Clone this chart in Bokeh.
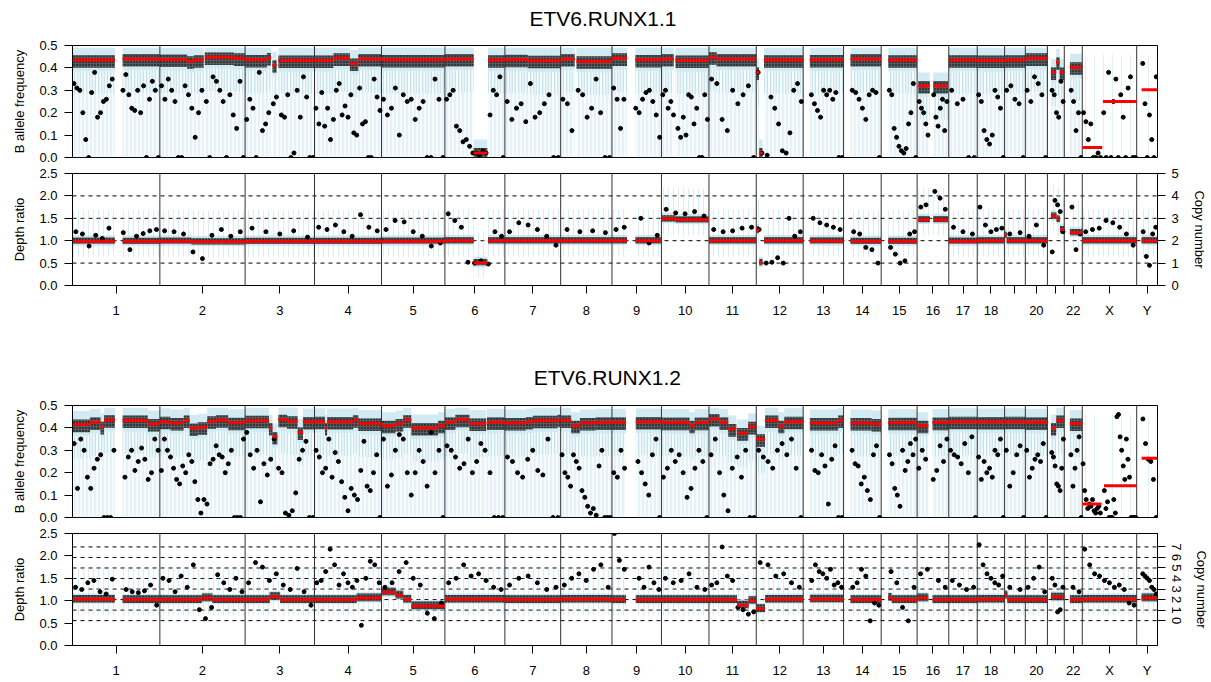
import numpy as np
from bokeh.plotting import figure
from bokeh.layouts import column
from bokeh.models import Range1d, LinearAxis, FixedTicker, PrintfTickFormatter
from bokeh.core.properties import value
from bokeh.embed import file_html
from bokeh.resources import INLINE

# ---------------- data ----------------
chroms = ["1", "2", "3", "4", "5", "6", "7", "8", "9", "10", "11", "12", "13", "14",
          "15", "16", "17", "18", "19", "20", "21", "22", "X", "Y"]
chrom_len = [249.25, 243.20, 198.02, 191.15, 180.92, 171.12, 159.14, 146.36, 141.21,
             135.53, 135.01, 133.85, 115.17, 107.35, 102.53, 90.35, 81.20, 78.08, 59.13,
             63.03, 48.13, 51.30, 155.27, 59.37]
hidden_labels = ["19", "21"]
sparse_baf = ["X", "Y"]

titles = ["ETV6.RUNX1.1", "ETV6.RUNX1.2"]
baf_ticks = [0.0, 0.1, 0.2, 0.3, 0.4, 0.5]
depth_ticks = [0.0, 0.5, 1.0, 1.5, 2.0, 2.5]
cn_labels1 = [0, 1, 2, 3, 4, 5]
cn_depth1 = [0.0, 0.5, 1.0, 1.5, 2.0, 2.5]
cn_labels2 = [0, 1, 2, 3, 4, 5, 6, 7]
cn_depth2 = [0.555, 0.79, 1.025, 1.26, 1.495, 1.73, 1.965, 2.2]

# segments: (chromosome, start Mb, end Mb, value)
baf1_segments = [
    ("1", 0, 121, 0.435), ("1", 143, 249, 0.44),
    ("2", 0, 78, 0.438), ("2", 78, 97, 0.43), ("2", 97, 125, 0.435), ("2", 128, 211, 0.447), ("2", 211, 243, 0.443),
    ("3", 0, 62, 0.436), ("3", 62, 74, 0.445), ("3", 78, 90, 0.412), ("3", 95, 198, 0.433),
    ("4", 0, 54, 0.433), ("4", 54, 101, 0.443), ("4", 101, 125, 0.42), ("4", 125, 191, 0.44),
    ("5", 0, 181, 0.436),
    ("6", 0, 82, 0.44), ("6", 82, 121, 0.02), ("6", 123, 171, 0.435),
    ("7", 0, 65, 0.437), ("7", 65, 159, 0.432),
    ("8", 0, 40, 0.44), ("8", 45, 146, 0.43),
    ("9", 0, 43, 0.443), ("9", 67, 141, 0.436),
    ("10", 0, 35, 0.44), ("10", 40, 135, 0.433),
    ("11", 0, 22, 0.448), ("11", 22, 135, 0.44),
    ("12", 0, 8, 0.38), ("12", 8, 18, 0.02), ("12", 22, 134, 0.435),
    ("13", 19, 115, 0.436),
    ("14", 20, 107, 0.44),
    ("15", 20, 102, 0.435),
    ("16", 3, 36, 0.32), ("16", 46, 88, 0.32),
    ("17", 0, 81, 0.435),
    ("18", 0, 78, 0.433),
    ("19", 0, 59, 0.435),
    ("20", 0, 63, 0.443),
    ("21", 10, 25, 0.38), ("21", 25, 35, 0.425), ("21", 35, 48, 0.38),
    ("22", 16, 51, 0.403),
    ("X", 0, 57, 0.045), ("X", 59, 155, 0.25),
    ("Y", 14, 59, 0.303),
]
depth1_segments = [
    ("1", 0, 121, 0.99), ("1", 143, 249, 0.985),
    ("2", 0, 90, 0.99), ("2", 90, 243, 0.975),
    ("3", 0, 198, 0.985),
    ("4", 0, 191, 0.985),
    ("5", 0, 181, 0.99),
    ("6", 0, 82, 1.0), ("6", 82, 121, 0.51), ("6", 123, 171, 1.0),
    ("7", 0, 159, 1.0),
    ("8", 0, 146, 1.0),
    ("9", 0, 43, 1.0), ("9", 67, 141, 1.0),
    ("10", 0, 40, 1.49), ("10", 40, 135, 1.465),
    ("11", 0, 135, 1.0),
    ("12", 0, 8, 1.24), ("12", 8, 18, 0.51), ("12", 22, 134, 1.0),
    ("13", 19, 115, 0.995),
    ("14", 20, 107, 0.985),
    ("15", 20, 102, 0.985),
    ("16", 3, 36, 1.47), ("16", 46, 88, 1.47),
    ("17", 0, 81, 0.99),
    ("18", 0, 78, 1.0),
    ("19", 0, 6, 1.12), ("19", 6, 59, 1.0),
    ("20", 0, 63, 1.0),
    ("21", 10, 26, 1.55), ("21", 26, 36, 1.48), ("21", 36, 48, 1.25),
    ("22", 16, 51, 1.18),
    ("X", 0, 155, 1.0),
    ("Y", 14, 59, 1.0),
]
baf2_segments = [
    ("1", 0, 50, 0.415), ("1", 50, 80, 0.425), ("1", 80, 90, 0.405), ("1", 90, 121, 0.435),
    ("1", 143, 215, 0.433), ("1", 215, 249, 0.418),
    ("2", 0, 30, 0.428), ("2", 30, 68, 0.422), ("2", 68, 85, 0.433), ("2", 85, 108, 0.398),
    ("2", 108, 135, 0.403), ("2", 135, 160, 0.43), ("2", 160, 195, 0.435), ("2", 195, 243, 0.423),
    ("3", 0, 68, 0.432), ("3", 68, 78, 0.40), ("3", 78, 92, 0.36), ("3", 95, 120, 0.437),
    ("3", 120, 150, 0.43), ("3", 150, 165, 0.38), ("3", 165, 198, 0.427),
    ("4", 0, 30, 0.428), ("4", 30, 36, 0.40), ("4", 36, 110, 0.427), ("4", 110, 125, 0.435), ("4", 125, 191, 0.42),
    ("5", 0, 40, 0.41), ("5", 40, 62, 0.418), ("5", 62, 85, 0.435), ("5", 85, 161, 0.40), ("5", 161, 181, 0.41),
    ("6", 0, 30, 0.425), ("6", 30, 70, 0.437), ("6", 70, 118, 0.42), ("6", 120, 171, 0.425),
    ("7", 0, 60, 0.422), ("7", 60, 80, 0.427), ("7", 80, 150, 0.432), ("7", 150, 159, 0.437),
    ("8", 0, 30, 0.433), ("8", 30, 55, 0.41), ("8", 55, 100, 0.422), ("8", 100, 146, 0.425),
    ("9", 0, 40, 0.425), ("9", 68, 141, 0.427),
    ("10", 0, 80, 0.424), ("10", 80, 95, 0.41), ("10", 95, 135, 0.424),
    ("11", 0, 30, 0.44), ("11", 30, 55, 0.425), ("11", 55, 78, 0.395), ("11", 80, 112, 0.377), ("11", 112, 135, 0.405),
    ("12", 0, 25, 0.35), ("12", 25, 63, 0.433), ("12", 63, 80, 0.41), ("12", 80, 134, 0.428),
    ("13", 19, 100, 0.422), ("13", 100, 115, 0.433),
    ("14", 20, 80, 0.422), ("14", 80, 107, 0.418),
    ("15", 20, 102, 0.423),
    ("16", 0, 32, 0.41), ("16", 44, 90, 0.424),
    ("17", 0, 81, 0.428),
    ("18", 0, 78, 0.427),
    ("19", 0, 59, 0.428),
    ("20", 0, 63, 0.425),
    ("21", 10, 25, 0.40), ("21", 25, 48, 0.433),
    ("22", 16, 51, 0.42),
    ("X", 0, 55, 0.06), ("X", 62, 155, 0.142),
    ("Y", 14, 59, 0.265),
]
depth2_segments = [
    ("1", 0, 121, 1.03), ("1", 143, 249, 1.02),
    ("2", 0, 120, 1.02), ("2", 120, 150, 1.06), ("2", 150, 243, 1.02),
    ("3", 0, 70, 1.02), ("3", 70, 100, 1.09), ("3", 100, 198, 1.02),
    ("4", 0, 120, 1.02), ("4", 120, 191, 1.06),
    ("5", 0, 40, 1.19), ("5", 40, 62, 1.12), ("5", 62, 85, 1.03), ("5", 85, 181, 0.88),
    ("6", 0, 171, 1.03),
    ("7", 0, 159, 1.02),
    ("8", 0, 146, 1.03),
    ("9", 0, 40, 1.02), ("9", 68, 141, 1.02),
    ("10", 0, 135, 1.02),
    ("11", 0, 80, 1.02), ("11", 80, 113, 0.9), ("11", 113, 135, 1.0),
    ("12", 0, 25, 0.82), ("12", 25, 134, 1.03),
    ("13", 19, 115, 1.035),
    ("14", 20, 107, 1.02),
    ("15", 20, 30, 1.07), ("15", 30, 102, 1.02),
    ("16", 0, 32, 1.06), ("16", 44, 90, 1.02),
    ("17", 0, 81, 1.02),
    ("18", 0, 78, 1.03),
    ("19", 0, 8, 1.12), ("19", 8, 59, 1.02),
    ("20", 0, 63, 1.02),
    ("21", 10, 48, 1.08),
    ("22", 16, 51, 1.02),
    ("X", 0, 155, 1.03),
    ("Y", 14, 59, 1.06),
]

# scattered points (values, in genomic order within each chromosome)
baf1_points = [
    "0.33 0.31 0.30 0.20 0.08 0 0.29 0.38 0.18 0.20 0.25 0.26 0.32 0.35 0.30 0.37 0.28 0.22 0.21 0.30 0.20 0.32 0 0.26 0.34 0.30 0",
    "0.32 0.26 0.35 0.30 0.25 0 0 0.32 0.28 0.22 0.09 0.20 0.30 0.25 0 0.36 0.34 0.30 0.25 0 0.28 0.19 0.13 0.34 0",
    "0.17 0.26 0.22 0 0.38 0.12 0.15 0.20 0.24 0.27 0.19 0.18 0.28 0 0.02 0.30 0.18 0.36 0.27 0 0",
    "0.22 0.15 0.29 0.14 0.22 0.08 0.17 0.30 0.33 0.19 0.23 0.18 0.28 0.11 0.10 0.31 0.15 0.16 0 0 0.35 0.27 0.21",
    "0.26 0.19 0.22 0.31 0.10 0.28 0.25 0.26 0.17 0.22 0.25 0 0 0.35 0.26 0",
    "0.26 0.28 0.30 0.14 0.12 0.07 0.08 0.05 0.02 0.02 0.01 0.03 0.02 0.19 0.30 0.28 0.36 0",
    "0.25 0.17 0.22 0.24 0.16 0.33 0.18 0.20 0.24 0.28 0 0",
    "0.26 0.24 0.12 0.30 0.28 0.18 0.22 0.35 0.20 0 0",
    "0.31 0.26 0.13 0.26 0.22 0.20 0.26 0.29 0.30 0.25 0.19 0.09",
    "0.28 0.30 0.22 0.25 0.19 0.13 0.09 0.18 0.10 0.28 0.27 0.15 0.22 0 0 0.28 0.17",
    "0.35 0.33 0.17 0.12 0.30 0.24 0.28 0.32 0",
    "0.38 0.02 0.01 0.27 0.22 0.15 0.03 0.02 0.11 0.30 0.33 0.25",
    "0.28 0.24 0.21 0.18 0.30 0.28 0.30 0.26 0.29 0 0",
    "0.30 0.29 0.26 0.22 0.17 0.28 0.30 0.29 0",
    "0.30 0.28 0.13 0.09 0.05 0.03 0.02 0.04 0.15 0.20 0.33 0",
    "0.25 0.22 0.20 0.15 0.10 0.28 0.18 0.14 0.22 0.26 0.12 0.25",
    "0.30 0.24 0.26 0 0",
    "0.28 0.25 0.12 0.08 0.06 0.10 0.30 0.27 0.22 0",
    "0.30 0.32 0.26 0.24 0",
    "0.30 0.25 0.36 0.33 0.28 0",
    "0.30 0.28 0.20 0.18 0.34 0.25",
    "0.30 0.25 0.12 0.20 0",
    "0.20 0.16 0.08 0.15 0 0 0.02 0 0.20 0 0.38 0 0.25 0.35 0 0.28 0.18 0 0.31 0.36 0 0",
    "0.42 0.24 0 0.19 0.08 0 0.36",
]
depth1_points = [
    "1.20 1.15 0.88 1.12 1.05 1.28 1.18 0.80 1.10 1.16 1.22 1.25",
    "1.22 1.20 1.15 0.75 0.60 1.12 1.25 1.10 1.20",
    "1.28 1.20 1.15 1.22 1.08",
    "1.30 1.25 1.35 1.20 1.10 1.58 1.30 1.22",
    "1.25 1.45 1.42 1.20 1.10 0.88 0.95",
    "1.60 1.45 1.30 0.52 0.50 0.55 0.48 1.20 1.10",
    "1.20 1.40 1.35 1.25 1.10 0.90",
    "1.25 1.20 1.22 1.18",
    "1.25 1.30 1.50 0.95 1.12",
    "1.70 1.62 1.60 1.65 1.55",
    "1.25 1.20 1.22 1.28 1.30",
    "1.25 0.50 0.52 0.62 0.50 1.50 1.10 1.20",
    "1.50 1.40 1.35 1.30 1.25",
    "1.20 1.15 0.85 0.80 0.50",
    "0.85 0.70 0.50 0.55 1.15 1.20",
    "1.75 1.80 2.10 1.95 1.70",
    "1.30 1.20 1.15",
    "1.75 1.35 1.20 1.25 1.28",
    "1.15 1.18",
    "1.10 1.35 0.90",
    "0.75 1.90 1.80 1.65 1.20",
    "1.75 0.80 1.15",
    "1.20 1.25 1.28 1.45 1.40 1.30 1.15 0.90",
    "1.20 0.65 0.45 1.15 1.30",
]
baf2_points = [
    "0.33 0.13 0.35 0.30 0.18 0.13 0.22 0.26 0.28 0 0 0 0.30 0.18 0.27 0.30 0.21 0.25 0.31 0.26 0.17 0.20 0.35 0.30",
    "0.21 0.35 0.30 0.27 0.22 0.17 0.15 0.23 0.20 0.28 0.25 0.16 0.08 0.02 0.08 0.06 0.24 0.26 0.32 0.28 0.27 0.20 0.24 0.30 0 0 0 0.35",
    "0.38 0.28 0.22 0.30 0.07 0.24 0.19 0.26 0.35 0.22 0.20 0.02 0.01 0.03 0.11 0.26 0.30 0.34 0 0",
    "0.30 0.27 0.20 0.22 0.35 0.18 0.29 0.25 0.16 0.09 0.03 0.13 0.10 0.08 0.21 0.34 0.14 0.12 0.20 0.28 0",
    "0.35 0.14 0.19 0.30 0.37 0.35 0.20 0.10 0.20 0.30 0.25 0.14 0.38 0.20 0.30 0",
    "0.32 0.30 0.27 0.22 0.24 0.35 0.20 0.25 0.33 0.30 0.20 0 0 0",
    "0.27 0.25 0.20 0.18 0.26 0.30 0.21 0.19 0.35 0 0",
    "0.28 0.20 0.18 0.14 0.28 0.25 0.22 0.12 0.09 0.05 0.02 0.04 0.01 0.23 0.30 0 0 0",
    "0.20 0.18 0.30 0.22 0.25 0.20 0.15 0.10 0.28 0.35 0",
    "0.18 0.22 0.30 0.25 0.28 0.20 0.09 0.13 0.22 0.30 0.25 0",
    "0.28 0.35 0.20 0.10 0.03 0.22 0.27 0.18 0.30 0 0",
    "0.30 0.27 0.25 0.22 0.30 0.33 0.28 0.35 0.22 0",
    "0.30 0.21 0.20 0.28 0.23 0.06 0.26 0.32 0 0",
    "0.30 0.24 0.23 0.15 0.18 0.12 0.08 0.28 0.32 0",
    "0.28 0.24 0.13 0.10 0.05 0.30 0.21 0.25 0.33 0.28 0.35",
    "0.22 0.30 0.26 0.17 0.21 0.32 0.25 0.35",
    "0.30 0.28 0.27 0.24 0.33 0.20 0.36 0",
    "0.27 0.17 0.25 0.20 0.22 0.18 0.30 0.28 0.35 0",
    "0.30 0.14 0.20 0.28 0.32 0",
    "0.30 0.18 0.22 0.26 0.28 0.25 0.33 0",
    "0.29 0.27 0.23 0.15 0.14 0.12 0.22 0.35",
    "0.28 0.14 0.22 0.30 0.36 0",
    "0.24 0.12 0.08 0.04 0.06 0.05 0.08 0.03 0.02 0.04 0.05 0.02 0.12 0.04 0.07 0 0 0 0.08 0.02 0.45 0.46 0.36 0.30 0.23 0.17 0.35 0.26 0.18 0 0 0 0",
    "0.44 0.33 0.26 0.25 0.17 0",
]
depth2_points = [
    "1.30 1.25 1.40 1.45 1.20 1.15 1.48 1.25 1.20 1.18 1.22 1.35 0.90",
    "1.50 1.45 1.20 1.55 1.30 1.80 0.80 0.60 0.85 1.58 1.40 1.25 1.50 1.20",
    "1.40 1.85 1.75 1.45 1.60 1.35 1.25 1.72 1.20 0.90",
    "1.40 1.45 1.65 2.15 1.80 1.35 1.60 1.40 1.30 1.45 0.45 1.50 1.88 1.80 1.40",
    "1.30 1.40 1.65 1.85 1.50 1.35 0.72 0.60 0.95",
    "1.40 1.50 1.80 1.55 1.60 1.45 1.30 1.25",
    "1.35 1.50 1.55 1.40 1.25 1.30",
    "1.35 1.50 1.60 1.45 1.70 1.80 1.30",
    "2.50 1.90 1.70 1.50 1.30 1.75 1.40 1.25",
    "1.50 1.40 1.45 1.60 1.30 1.25",
    "1.35 1.40 2.20 1.55 1.45 0.85 0.80 0.70 0.75",
    "1.85 1.80 1.55 1.60 1.40 1.30",
    "1.45 1.80 1.65 1.60 1.50 1.70 1.35 1.40 1.30",
    "1.30 1.40 1.70 1.55 0.55 0.95 0.90",
    "1.65 1.40 0.85 0.55 1.30",
    "1.60 1.70 1.45 1.30",
    "1.45 1.35 1.25 1.30",
    "2.25 1.80 1.60 1.50 1.40 1.35 1.55",
    "1.30 1.25",
    "1.30 1.50 1.75 1.20",
    "1.50 1.35 0.75 0.80 1.30",
    "1.30 1.20",
    "2.15 1.80 1.60 1.55 1.45 1.40 1.30 1.35 1.25 0.95 0.90",
    "1.60 1.55 1.50 1.45 1.30 1.25 1.15",
]

# ---------------- helpers ----------------
FONT = "Liberation Sans"
W = 1211
starts = np.concatenate([[0.0], np.cumsum(chrom_len)[:-1]])
total = float(np.sum(chrom_len))
cidx = {c: i for i, c in enumerate(chroms)}
bounds = list(np.cumsum(chrom_len)[:-1])
mids = [round(float(s + l / 2.0), 3) for s, l in zip(starts, chrom_len)]


def apos(c, mb):
    return float(starts[cidx[c]] + mb)


def place_points(segs, pts):
    xs, ys = [], []
    for ci, c in enumerate(chroms):
        vals = [float(t) for t in pts[ci].split()]
        ss = [(s, e) for cc, s, e, v in segs if cc == c]
        if not vals or not ss:
            continue
        L = sum(e - s for s, e in ss)
        n = len(vals)
        for k, v in enumerate(vals):
            t = (k + 0.5) / n * L
            xx = None
            for s, e in ss:
                if t <= e - s:
                    xx = apos(c, s + t)
                    break
                t -= e - s
            if xx is None:
                xx = apos(c, ss[-1][1])
            xs.append(xx)
            ys.append(v)
    return xs, ys


def title_fig(text, h, cx, cy_from_top):
    t = figure(width=W, height=h, x_range=Range1d(0, W), y_range=Range1d(0, h),
               output_backend="svg", toolbar_location=None, x_axis_location=None, y_axis_location=None,
               min_border_left=0, min_border_right=0, min_border_top=0, min_border_bottom=0)
    t.grid.visible = False
    t.outline_line_color = None
    t.text(x=[cx], y=[h - cy_from_top], text=[text], text_font=value(FONT), text_font_size="21px",
           text_color="black", text_align="center", text_baseline="middle")
    return t


def base_fig(h, top, bottom, left, right, yr, xaxis):
    p = figure(width=W, height=h, x_range=Range1d(0, total), y_range=Range1d(*yr),
               output_backend="svg", toolbar_location=None,
               x_axis_location=("below" if xaxis else None),
               min_border_left=left, min_border_right=right,
               min_border_top=top, min_border_bottom=bottom)
    p.grid.visible = False
    p.outline_line_color = "black"
    p.outline_line_width = 1
    p.background_fill_color = "white"
    p.border_fill_color = "white"
    ax = p.yaxis[0]
    ax.major_tick_out = 8
    ax.major_tick_in = 0
    ax.minor_tick_line_color = None
    ax.major_label_text_font = FONT
    ax.major_label_text_font_size = "13px"
    ax.major_label_text_color = "black"
    ax.axis_label_text_font = FONT
    ax.axis_label_text_font_size = "13px"
    ax.axis_label_text_font_style = "normal"
    ax.axis_label_text_color = "black"
    ax.major_label_standoff = 7
    ax.axis_label_standoff = 9
    ax.formatter = PrintfTickFormatter(format="%.1f")
    if xaxis:
        xa = p.xaxis[0]
        xa.ticker = FixedTicker(ticks=mids)
        xa.major_label_overrides = {m: ("" if c in hidden_labels else c) for m, c in zip(mids, chroms)}
        xa.major_tick_out = 8
        xa.major_tick_in = 0
        xa.minor_tick_line_color = None
        xa.major_label_text_font = FONT
        xa.major_label_text_font_size = "13px"
        xa.major_label_text_color = "black"
        xa.major_label_standoff = 9
    return p


def dot_cloud(p, x0, x1, lo, hi):
    p.quad(left=x0, right=x1, bottom=lo, top=hi, fill_color="black", fill_alpha=0.6,
           hatch_pattern="dot", hatch_color="black", hatch_scale=3, hatch_weight=3, line_alpha=0)


def draw_baf(p, segs, pts):
    dense = [s for s in segs if s[0] not in sparse_baf]
    sparse = [s for s in segs if s[0] in sparse_baf]
    x0 = [apos(c, s) for c, s, e, v in dense]
    x1 = [apos(c, e) for c, s, e, v in dense]
    vv = [v for c, s, e, v in dense]
    core_b = [max(0.0, v - 0.05) for v in vv]
    core_t = [min(0.49, v + 0.06) for v in vv]
    p.quad(left=x0, right=x1, bottom=[0.0] * len(vv), top=core_b, fill_color="#add8e6", fill_alpha=0.10,
           hatch_pattern="vertical_line", hatch_color="#add8e6", hatch_alpha=0.5, hatch_scale=4,
           hatch_weight=1, line_alpha=0)
    p.quad(left=x0, right=x1, bottom=[max(0.0, v - 0.15) for v in vv], top=core_b, fill_color="#add8e6",
           fill_alpha=0.0, hatch_pattern="vertical_line", hatch_color="#add8e6", hatch_alpha=0.6,
           hatch_scale=3, hatch_weight=1, line_alpha=0)
    p.quad(left=x0, right=x1, bottom=core_b, top=core_t, fill_color="#add8e6", fill_alpha=0.55, line_alpha=0)
    dot_cloud(p, x0, x1, [max(0.0, v - 0.034) for v in vv], [v + 0.022 for v in vv])
    if sparse:
        sx0 = [apos(c, s) for c, s, e, v in sparse]
        sx1 = [apos(c, e) for c, s, e, v in sparse]
        p.quad(left=sx0, right=sx1, bottom=[0.0] * len(sparse), top=[0.46] * len(sparse), fill_alpha=0,
               hatch_pattern="vertical_line", hatch_color="#add8e6", hatch_alpha=0.35, hatch_scale=9,
               hatch_weight=1, line_alpha=0)
    p.segment(x0=bounds, x1=bounds, y0=[0] * len(bounds), y1=[0.5] * len(bounds), line_color="#333333", line_width=1)
    px, py = place_points(segs, pts)
    p.scatter(px, py, size=4, color="black")
    p.segment(x0=[apos(c, s) for c, s, e, v in segs], x1=[apos(c, e) for c, s, e, v in segs],
              y0=[v for c, s, e, v in segs], y1=[v for c, s, e, v in segs], line_color="red", line_width=3)


def draw_depth(p, segs, pts, dash_levels, band_lo, band_hi):
    p.segment(x0=[0] * len(dash_levels), x1=[total] * len(dash_levels), y0=dash_levels, y1=dash_levels,
              line_color="black", line_dash="4 4", line_width=1)
    x0 = [apos(c, s) for c, s, e, v in segs]
    x1 = [apos(c, e) for c, s, e, v in segs]
    vv = [v for c, s, e, v in segs]
    p.quad(left=x0, right=x1, bottom=[v - 0.35 for v in vv], top=[v + 0.7 for v in vv], fill_alpha=0,
           hatch_pattern="vertical_line", hatch_color="#add8e6", hatch_alpha=0.45, hatch_scale=5,
           hatch_weight=1, line_alpha=0)
    p.quad(left=x0, right=x1, bottom=[v - 0.1 for v in vv], top=[v + 0.13 for v in vv], fill_color="#add8e6",
           fill_alpha=0.6, line_alpha=0)
    dot_cloud(p, x0, x1, [v - band_lo for v in vv], [v + band_hi for v in vv])
    p.segment(x0=bounds, x1=bounds, y0=[0] * len(bounds), y1=[2.5] * len(bounds), line_color="#333333", line_width=1)
    px, py = place_points(segs, pts)
    p.scatter(px, py, size=4, color="black")
    p.segment(x0=x0, x1=x1, y0=vv, y1=vv, line_color="red", line_width=3)


def add_cn_axis(p, labels, depths, vertical):
    step = (depths[-1] - depths[0]) / (labels[-1] - labels[0])
    lo = labels[0] + (0.0 - depths[0]) / step
    hi = labels[0] + (2.5 - depths[0]) / step
    p.extra_y_ranges = {"cn": Range1d(lo, hi)}
    ax = LinearAxis(y_range_name="cn", ticker=FixedTicker(ticks=labels), axis_label="Copy number")
    ax.major_tick_out = 8
    ax.major_tick_in = 0
    ax.minor_tick_line_color = None
    ax.major_label_text_font = FONT
    ax.major_label_text_font_size = "13px"
    ax.major_label_text_color = "black"
    ax.axis_label_text_font = FONT
    ax.axis_label_text_font_size = "13px"
    ax.axis_label_text_font_style = "normal"
    ax.axis_label_text_color = "black"
    ax.major_label_standoff = 6
    ax.axis_label_standoff = 10
    if vertical:
        ax.major_label_orientation = "vertical"
    p.add_layout(ax, "right")


# ---------------- figures ----------------
t1 = title_fig(titles[0], 30, 592, 18.3)

pA = base_fig(135, 15, 8, 72, 53, (0, 0.5), False)
pA.yaxis[0].ticker = FixedTicker(ticks=baf_ticks)
pA.yaxis[0].axis_label = "B allele frequency"
draw_baf(pA, baf1_segments, baf1_points)

pB = base_fig(165, 8, 45, 72, 53, (0, 2.5), True)
pB.yaxis[0].ticker = FixedTicker(ticks=depth_ticks)
pB.yaxis[0].axis_label = "Depth ratio"
draw_depth(pB, depth1_segments, depth1_points, cn_depth1, 0.06, 0.08)
add_cn_axis(pB, cn_labels1, cn_depth1, False)

t2 = title_fig(titles[1], 60, 597, 46.5)

pC = base_fig(135, 15, 8, 68, 54, (0, 0.5), False)
pC.yaxis[0].ticker = FixedTicker(ticks=baf_ticks)
pC.yaxis[0].axis_label = "B allele frequency"
draw_baf(pC, baf2_segments, baf2_points)

pD = base_fig(157, 8, 37, 68, 54, (0, 2.5), True)
pD.yaxis[0].ticker = FixedTicker(ticks=depth_ticks)
pD.yaxis[0].axis_label = "Depth ratio"
draw_depth(pD, depth2_segments, depth2_points, cn_depth2, 0.07, 0.10)
add_cn_axis(pD, cn_labels2, cn_depth2, True)

layout = column(t1, pA, pB, t2, pC, pD, spacing=0)
open("out.html", "w").write(file_html(layout, INLINE))
